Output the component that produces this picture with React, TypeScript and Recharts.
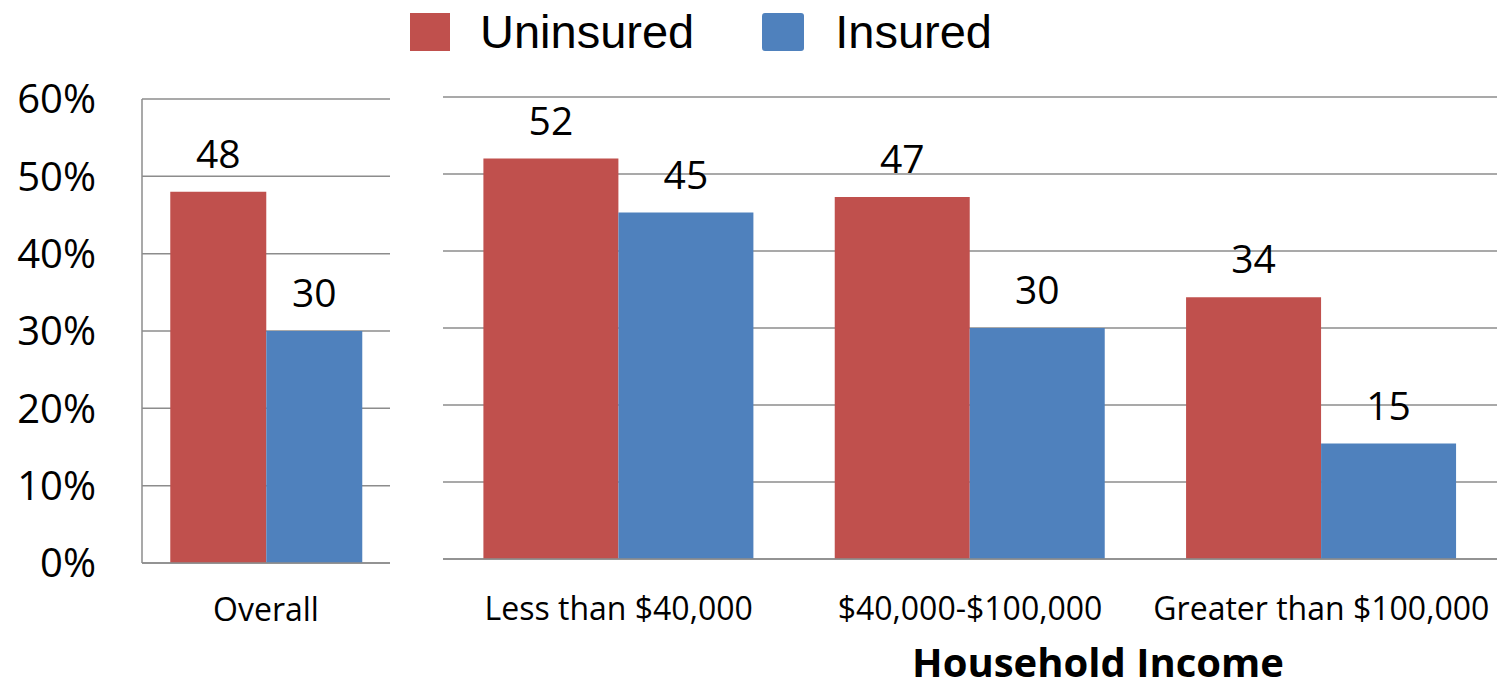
import React from 'react';
import { BarChart, Bar, XAxis, YAxis, CartesianGrid, LabelList, Legend, Label } from 'recharts';

const overallCategories = ['Overall'];
const overallUninsured = [48];
const overallInsured = [30];

const incomeCategories = ['Less than $40,000', '$40,000-$100,000', 'Greater than $100,000'];
const incomeUninsured = [52, 47, 34];
const incomeInsured = [45, 30, 15];

const yTicks = [0, 10, 20, 30, 40, 50, 60];
const seriesNames = ['Uninsured', 'Insured'];
const xAxisTitle = 'Household Income';

const RED = '#C0504D';
const BLUE = '#4F81BD';
const GRID = '#8C8C8C';
const FONT = '"Open Sans", sans-serif';

const overallData = overallCategories.map((c, i) => ({
  name: c,
  Uninsured: overallUninsured[i],
  Insured: overallInsured[i],
}));
const incomeData = incomeCategories.map((c, i) => ({
  name: c,
  Uninsured: incomeUninsured[i],
  Insured: incomeInsured[i],
}));

const LegendContent = () => (
  <div style={{ display: 'flex', alignItems: 'center', fontFamily: '"Liberation Sans", Arial, sans-serif', fontSize: 47, color: '#000', lineHeight: '64px' }}>
    <div style={{ width: 40, height: 38, background: RED, marginRight: 30 }} />
    <span style={{ marginRight: 68 }}>{seriesNames[0]}</span>
    <div style={{ width: 42, height: 38, background: BLUE, borderRadius: 3, marginRight: 31 }} />
    <span>{seriesNames[1]}</span>
  </div>
);

const tickStyle = { fontFamily: FONT, fill: '#000' };

export default function App() {
  return (
    <div style={{ position: 'absolute', left: 0, top: 0, width: 1503, height: 689, background: '#fff' }}>
      <div style={{ position: 'absolute', left: 0, top: 0 }}>
        <BarChart
          width={440}
          height={689}
          data={overallData}
          margin={{ top: 99, right: 50, bottom: 0, left: 0 }}
          barGap={0}
          barCategoryGap="11.4%"
        >
          <CartesianGrid vertical={false} stroke={GRID} strokeWidth={1.5} />
          <YAxis
            width={142}
            domain={[0, 60]}
            ticks={yTicks}
            tickFormatter={(v: number) => `${v}%`}
            tickSize={0}
            tickMargin={46}
            axisLine={{ stroke: GRID, strokeWidth: 1.5 }}
            tickLine={false}
            tick={{ ...tickStyle, fontSize: 40 }}
            interval={0}
          />
          <XAxis
            dataKey="name"
            height={126}
            tickSize={0}
            tickMargin={35}
            axisLine={{ stroke: GRID, strokeWidth: 1.5 }}
            tickLine={false}
            tick={{ ...tickStyle, fontSize: 32 }}
          />
          <Bar dataKey="Uninsured" fill={RED} isAnimationActive={false}>
            <LabelList dataKey="Uninsured" position="top" offset={24} style={{ fontFamily: FONT, fontSize: 39, fill: '#000' }} />
          </Bar>
          <Bar dataKey="Insured" fill={BLUE} isAnimationActive={false}>
            <LabelList dataKey="Insured" position="top" offset={24} style={{ fontFamily: FONT, fontSize: 39, fill: '#000' }} />
          </Bar>
        </BarChart>
      </div>
      <div style={{ position: 'absolute', left: 380, top: 0 }}>
        <BarChart
          width={1123}
          height={689}
          data={incomeData}
          margin={{ top: 97, right: 6, bottom: 0, left: 63 }}
          barGap={0}
          barCategoryGap="11.5%"
        >
          <CartesianGrid vertical={false} stroke={GRID} strokeWidth={1.5} />
          <YAxis hide domain={[0, 60]} ticks={yTicks} />
          <XAxis
            dataKey="name"
            height={130}
            tickSize={0}
            tickMargin={38}
            axisLine={{ stroke: GRID, strokeWidth: 1.5 }}
            tickLine={false}
            tick={{ ...tickStyle, fontSize: 32 }}
            interval={0}
          >
            <Label
              value={xAxisTitle}
              position="insideBottom"
              offset={12}
              dx={128}
              style={{ fontFamily: FONT, fontSize: 40, fontWeight: 700, fill: '#000' }}
            />
          </XAxis>
          <Legend
            layout="horizontal"
            verticalAlign="middle"
            align="center"
            content={<LegendContent />}
            wrapperStyle={{ top: 0, left: 30, width: 700, height: 64, bottom: 'auto', right: 'auto' }}
          />
          <Bar dataKey="Uninsured" fill={RED} isAnimationActive={false}>
            <LabelList dataKey="Uninsured" position="top" offset={24} style={{ fontFamily: FONT, fontSize: 39, fill: '#000' }} />
          </Bar>
          <Bar dataKey="Insured" fill={BLUE} isAnimationActive={false}>
            <LabelList dataKey="Insured" position="top" offset={24} style={{ fontFamily: FONT, fontSize: 39, fill: '#000' }} />
          </Bar>
        </BarChart>
      </div>
    </div>
  );
}
